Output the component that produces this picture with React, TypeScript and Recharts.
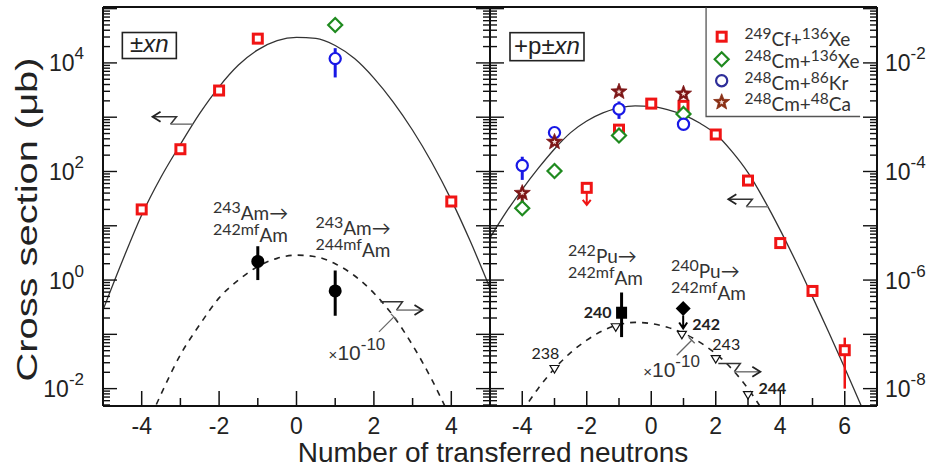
import React from 'react';
import { ComposedChart, Line, Scatter, XAxis, YAxis, ErrorBar, ReferenceDot } from 'recharts';

// ================= Left panel (±xn), cross section in μb =================
const leftCfX = [-4, -3, -2, -1, 4];
const leftCfY = [20, 257, 3100, 28000, 28];
const leftCmXeX = [1];
const leftCmXeY = [50000];
const leftCmKrX = [1];
const leftCmKrY = [12000];
const leftCmKrLo = [5400];
const leftCmKrHi = [18700];
const leftAmX = [-1, 1];
const leftAmY = [2.2, 0.63];
const leftAmLo = [1.0, 0.22];
const leftAmHi = [4.2, 1.5];
const leftFitX = [-5, -4.5, -4, -3.5, -3, -2.5, -2, -1.5, -1, -0.5, 0, 0.5, 1, 1.5, 2, 2.5, 3, 3.5, 4, 4.5, 5];
const leftFitY = [0.28, 2.24, 15.8, 79, 316, 1175, 3630, 9120, 17400, 25700, 29500, 28200, 20900, 12000, 5250, 1900, 575, 145, 30, 5.0, 0.71];
const leftFitAmX = [-3.75, -3.5, -3, -2.5, -2, -1.5, -1, -0.5, 0, 0.5, 1, 1.5, 2, 2.5, 3, 3.5, 3.9];
const leftFitAmY = [0.0032, 0.0079, 0.042, 0.151, 0.47, 1.0, 1.78, 2.51, 2.88, 2.69, 2.0, 1.2, 0.575, 0.219, 0.063, 0.0145, 0.0038];

// ================= Right panel (+p±xn), right-axis units =================
const rightCfX = [-1, 0, 1, 2, 3, 4, 5, 6];
const rightCfY = [5.9e-4, 1.78e-3, 1.62e-3, 4.8e-4, 6.8e-5, 4.8e-6, 6.3e-7, 5.1e-8];
const rightCfLo = [5.9e-4, 1.78e-3, 1.62e-3, 4.8e-4, 6.8e-5, 4.8e-6, 6.3e-7, 1.0e-8];
const rightCfHi = [5.9e-4, 1.78e-3, 1.62e-3, 4.8e-4, 6.8e-5, 4.8e-6, 6.3e-7, 8.7e-8];
const rightCfLimitX = [-2];
const rightCfLimitY = [5.0e-5];
const rightCmXeX = [-4, -3, -1, 1];
const rightCmXeY = [2.1e-5, 1.02e-4, 4.6e-4, 1.15e-3];
const rightCmKrX = [-4, -3, -1, 1];
const rightCmKrY = [1.29e-4, 5.2e-4, 1.41e-3, 7.4e-4];
const rightCmKrLo = [7.0e-5, 4.0e-4, 9.3e-4, 6.6e-4];
const rightCmKrHi = [1.87e-4, 6.6e-4, 1.95e-3, 8.3e-4];
const rightCmCaX = [-4, -3, -1, 1];
const rightCmCaY = [4.0e-5, 3.5e-4, 2.95e-3, 2.7e-3];
const rightCmCaLo = [2.5e-5, 3.5e-4, 2.95e-3, 2.7e-3];
const rightCmCaHi = [5.2e-5, 3.5e-4, 2.95e-3, 2.7e-3];
const rightPuSqX = [-0.92];
const rightPuSqY = [2.5e-7];
const rightPuSqLo = [8.9e-8];
const rightPuSqHi = [5.9e-7];
const rightPuDiaX = [0.99];
const rightPuDiaY = [3.0e-7];
const rightTriX = [-3, -1.1, 0.95, 2, 3];
const rightTriY = [2.3e-8, 1.35e-7, 9.8e-8, 3.5e-8, 7.6e-9];
const rightFitX = [-5, -4.5, -4, -3.5, -3, -2.5, -2, -1.5, -1, -0.5, 0, 0.5, 1, 1.5, 2, 2.5, 3, 3.5, 4, 4.5, 5, 5.5, 6, 6.5, 7];
const rightFitY = [6.0e-6, 1.78e-5, 4.7e-5, 1.15e-4, 2.6e-4, 5.2e-4, 8.5e-4, 1.2e-3, 1.48e-3, 1.62e-3, 1.58e-3, 1.38e-3, 1.10e-3, 7.8e-4, 4.9e-4, 2.34e-4, 9.5e-5, 3.0e-5, 8.3e-6, 2.1e-6, 4.9e-7, 1.1e-7, 2.4e-8, 5.0e-9, 1.0e-9];
const rightFitPuX = [-4, -3.5, -3, -2.5, -2, -1.5, -1, -0.5, 0, 0.5, 1, 1.5, 2, 2.5, 3, 3.5];
const rightFitPuY = [3.8e-9, 1.02e-8, 2.34e-8, 4.6e-8, 7.8e-8, 1.17e-7, 1.51e-7, 1.66e-7, 1.58e-7, 1.35e-7, 1.05e-7, 7.2e-8, 4.4e-8, 2.3e-8, 1.0e-8, 3.6e-9];

// ================= Axis ticks =================
const leftXTicks = [-5, -4, -3, -2, -1, 0, 1, 2, 3, 4, 5];
const rightXTicks = [-5, -4, -3, -2, -1, 0, 1, 2, 3, 4, 5, 6, 7];
const leftDecades = [-3, -2, -1, 0, 1, 2, 3, 4, 5];
const rightDecades = [-9, -8, -7, -6, -5, -4, -3, -2, -1];
const minorMultipliers = [1, 2, 3, 4, 5, 6, 7, 8, 9];
const leftYDomain = [Math.pow(10, -2.32), Math.pow(10, 5.03)];
const rightYDomain = [Math.pow(10, -8.32), Math.pow(10, -0.97)];

const legendLabels = [
  ['249', 'Cf+', '136', 'Xe'],
  ['248', 'Cm+', '136', 'Xe'],
  ['248', 'Cm+', '86', 'Kr'],
  ['248', 'Cm+', '48', 'Ca'],
];

// ================= tables built from arrays =================
const pts = (xs: number[], ys: number[]) => xs.map((x, i) => ({ x, y: ys[i] }));
const errPts = (xs: number[], ys: number[], lo: number[], hi: number[]) =>
  xs.map((x, i) => ({ x, y: ys[i], err: [ys[i] - lo[i], hi[i] - ys[i]] }));
const logTicks = (decs: number[], dom: number[]) =>
  decs.flatMap((e) => minorMultipliers.map((m) => m * Math.pow(10, e))).filter((v) => v >= dom[0] && v <= dom[1]);

const leftYTicks = logTicks(leftDecades, leftYDomain);
const rightYTicks = logTicks(rightDecades, rightYDomain);

// ================= styling helpers =================
const FONT_AXIS = '"Liberation Sans", Arial, sans-serif';
const FONT_NOTE = 'Lato, "Open Sans", sans-serif';
const AX = { stroke: '#111', strokeWidth: 2 };
const RED = '#f01414';
const GREEN = '#1f8a1f';
const BLUE = '#1818e6';
const STAR = '#7d1616';

type Part = { t: string; sup?: boolean };
const Rich = ({ x, y, parts, size, supSize, rise, anchor = 'start', family = FONT_NOTE, weight = 'normal', fill = '#333' }: any) => {
  let cur = 0;
  return (
    <text x={x} y={y} textAnchor={anchor} fontFamily={family} fontWeight={weight} fill={fill} fontSize={size}>
      {parts.map((p: Part, i: number) => {
        const target = p.sup ? -rise : 0;
        const dy = target - cur;
        cur = target;
        return (
          <tspan key={i} dy={dy} fontSize={p.sup ? supSize : size}>
            {p.t}
          </tspan>
        );
      })}
    </text>
  );
};

const starPath = (cx: number, cy: number, R: number, r: number) => {
  let d = '';
  for (let i = 0; i < 10; i++) {
    const a = -Math.PI / 2 + (i * Math.PI) / 5;
    const rad = i % 2 ? r : R;
    d += (i ? 'L' : 'M') + (cx + rad * Math.cos(a)).toFixed(2) + ' ' + (cy + rad * Math.sin(a)).toFixed(2);
  }
  return d + 'Z';
};

const squareShape = (color: string) => (p: any) => (
  <rect x={p.cx - 4.5} y={p.cy - 4.5} width={9} height={9} fill="#fff" stroke={color} strokeWidth={3} />
);
const diamondShape = (color: string) => (p: any) => (
  <path d={`M${p.cx} ${p.cy - 7}L${p.cx + 7} ${p.cy}L${p.cx} ${p.cy + 7}L${p.cx - 7} ${p.cy}Z`} fill="#fff" stroke={color} strokeWidth={2.2} />
);
const circleShape = (color: string) => (p: any) => <circle cx={p.cx} cy={p.cy} r={5.6} fill="#fff" stroke={color} strokeWidth={2.2} />;
const starShape = (color: string) => (p: any) => (
  <g>
    <path d={starPath(p.cx, p.cy, 8.5, 3.6)} fill={color} stroke={color} strokeWidth={0.8} />
    <path d={starPath(p.cx, p.cy, 2.8, 1.2)} fill="#f3dcd6" />
  </g>
);
const blackDot = (p: any) => <circle cx={p.cx} cy={p.cy} r={6.5} fill="#000" />;
const blackSquare = (p: any) => <rect x={p.cx - 5.5} y={p.cy - 6} width={11} height={12} fill="#000" />;
const blackDiamondLimit = (p: any) => (
  <g>
    <path d={`M${p.cx} ${p.cy - 7.5}L${p.cx + 7.5} ${p.cy}L${p.cx} ${p.cy + 7.5}L${p.cx - 7.5} ${p.cy}Z`} fill="#000" />
    <path d={`M${p.cx} ${p.cy + 7}L${p.cx} ${p.cy + 20}M${p.cx - 4} ${p.cy + 14}L${p.cx} ${p.cy + 20}L${p.cx + 4} ${p.cy + 14}`} fill="none" stroke="#000" strokeWidth={2} />
  </g>
);
const redSquareLimit = (p: any) => (
  <g>
    <path d={`M${p.cx} ${p.cy + 5}L${p.cx} ${p.cy + 17}M${p.cx - 4} ${p.cy + 12}L${p.cx} ${p.cy + 17}L${p.cx + 4} ${p.cy + 12}`} fill="none" stroke={RED} strokeWidth={2} />
    <rect x={p.cx - 4.5} y={p.cy - 4.5} width={9} height={9} fill="#fff" stroke={RED} strokeWidth={3} />
  </g>
);
const triShape = (p: any) => (
  <path d={`M${p.cx - 4.5} ${p.cy - 3.5}L${p.cx + 4.5} ${p.cy - 3.5}L${p.cx} ${p.cy + 4}Z`} fill="#fff" stroke="#111" strokeWidth={1.2} />
);
const noShape = () => <g />;

// ================= ticks =================
const makeXTick = (side: 'b' | 't', edges: number[]) => (props: any) => {
  const { x, y, payload } = props;
  const v = payload.value;
  if (edges.includes(v)) return <g />;
  const major = v % 2 === 0;
  const len = major ? 15 : 8;
  const dir = side === 'b' ? -1 : 1;
  return (
    <g>
      <line x1={x} x2={x} y1={y} y2={y + dir * len} stroke="#111" strokeWidth={1.5} />
      {side === 'b' && major && (
        <text x={x} y={y + 27.5} textAnchor="middle" fontFamily={FONT_AXIS} fontSize={23} fill="#222">
          {String(v)}
        </text>
      )}
    </g>
  );
};

const makeYTick = (side: 'l' | 'r', showLabels: boolean) => (props: any) => {
  const { x, y, payload } = props;
  const v = payload.value;
  const lg = Math.log10(v);
  const e = Math.round(lg);
  const major = Math.abs(lg - e) < 1e-6;
  const len = major ? 14 : 7;
  const dir = side === 'l' ? 1 : -1;
  return (
    <g>
      <line x1={x} x2={x + dir * len} y1={y} y2={y} stroke="#111" strokeWidth={1.4} />
      {showLabels && major && e % 2 === 0 && (
        <text x={side === 'l' ? x - 19 : x + 8} y={y + 8.5} textAnchor={side === 'l' ? 'end' : 'start'} fontFamily={FONT_AXIS} fontSize={23} fill="#222">
          10
          <tspan dy={-12} fontSize={17}>
            {String(e)}
          </tspan>
        </text>
      )}
    </g>
  );
};

// ================= annotations =================
const note = (render: (cx: number, cy: number) => React.ReactElement) => (p: any) => render(p.cx, p.cy);

const zigLeft = (cx: number, cy: number) => (
  <g fill="none">
    <path d={`M${cx} ${cy}L${cx + 24} ${cy}L${cx + 18} ${cy + 7.5}`} stroke="#333" strokeWidth={1.5} />
    <path d={`M${cx + 18} ${cy + 7.5}L${cx + 40} ${cy + 7.5}`} stroke="#777" strokeWidth={1.5} />
    <path d={`M${cx + 8} ${cy - 5}L${cx} ${cy}L${cx + 8} ${cy + 5}`} stroke="#222" strokeWidth={1.8} />
  </g>
);
const zigRight = (cx: number, cy: number) => (
  <g fill="none">
    <path d={`M${cx} ${cy}L${cx + 22} ${cy}L${cx + 16} ${cy + 8.3}`} stroke="#333" strokeWidth={1.5} />
    <path d={`M${cx + 16} ${cy + 8.3}L${cx + 42} ${cy + 8.3}`} stroke="#777" strokeWidth={1.5} />
    <path d={`M${cx + 34} ${cy + 3.3}L${cx + 42} ${cy + 8.3}L${cx + 34} ${cy + 13.3}`} stroke="#222" strokeWidth={1.8} />
  </g>
);
const pointer = (cx: number, cy: number) => (
  <g fill="none" stroke="#666" strokeWidth={1.3}>
    <path d={`M${cx} ${cy}L${cx + 15} ${cy - 15}`} />
    <path d={`M${cx + 12} ${cy - 18}L${cx + 18} ${cy - 12}`} />
  </g>
);
const times = (cx: number, cy: number) => (
  <text x={cx} y={cy} fontFamily={FONT_AXIS} fontSize={21} fill="#333">
    <tspan fontSize={15}>×</tspan>
    <tspan>10</tspan>
    <tspan dy={-10} fontSize={17}>
      -10
    </tspan>
  </text>
);
const reaction = (a: string, el: string, b: string) => (cx: number, cy: number) => (
  <g>
    <Rich x={cx} y={cy} parts={[{ t: a, sup: true }, { t: el + '→' }]} size={19} supSize={16} rise={7} />
    <Rich x={cx} y={cy + 22} parts={[{ t: b, sup: true }, { t: 'Am' }]} size={19} supSize={16} rise={7} />
  </g>
);
const boxLabel = (w: number, h: number, pre: string) => (cx: number, cy: number) => (
  <g>
    <rect x={cx} y={cy} width={w} height={h} fill="#fff" stroke="#222" strokeWidth={1.6} />
    <text x={cx + w / 2} y={cy + h - 7} textAnchor="middle" fontFamily={FONT_AXIS} fontSize={24} fill="#222">
      {pre}
      <tspan fontStyle="italic">xn</tspan>
    </text>
  </g>
);
const smallNum = (txt: string, bold: boolean, anchor: string) => (cx: number, cy: number) => (
  <text x={cx} y={cy} textAnchor={anchor} fontFamily={FONT_NOTE} fontWeight={bold ? 'bold' : 'normal'} fontSize={16} fill="#222">
    {txt}
  </text>
);
const legendMarks = [squareShape(RED), diamondShape(GREEN), circleShape('#2e2e99'), starShape('#8a3015')];
const legendRowsDy = [17.2, 39.7, 61.2, 82.7];
const legendBox = (cx: number, cy: number) => (
  <g>
    <path d={`M${cx} ${cy - 12}L${cx} ${cy + 97}L${cx + 154} ${cy + 97}`} fill="none" stroke="#555" strokeWidth={1.3} />
    {legendLabels.map((lab, i) => (
      <g key={i}>
        {legendMarks[i]({ cx: cx + 15.6, cy: cy + legendRowsDy[i] })}
        <Rich
          x={cx + 38.5}
          y={cy + legendRowsDy[i] + 9}
          parts={[{ t: lab[0], sup: true }, { t: lab[1] }, { t: lab[2], sup: true }, { t: lab[3] }]}
          size={19}
          supSize={15.5}
          rise={7}
        />
      </g>
    ))}
  </g>
);

const yTitle = () => (
  <text
    transform="translate(37,219.5) rotate(-90)"
    x={0}
    y={0}
    textAnchor="middle"
    fontFamily={FONT_AXIS}
    fontSize={30}
    fill="#222"
    textLength={324}
    lengthAdjust="spacingAndGlyphs"
  >
    Cross section (μb)
  </text>
);
const xTitle = () => (
  <text x={493} y={461.5} textAnchor="middle" fontFamily={FONT_AXIS} fontSize={28} fill="#222">
    Number of transferred neutrons
  </text>
);

const B = { xAxisId: 'b', yAxisId: 'l' } as const;

const LeftPanel = () => (
  <ComposedChart width={500} height={470} margin={{ top: 5, right: 0, bottom: 34, left: 43 }}>
    <XAxis xAxisId="b" dataKey="x" type="number" domain={[-5, 5]} ticks={leftXTicks} interval={0} tickSize={0} tickMargin={0} height={30} allowDataOverflow axisLine={AX} tickLine={false} tick={makeXTick('b', [-5, 5])} />
    <XAxis xAxisId="t" orientation="top" type="number" domain={[-5, 5]} ticks={leftXTicks} interval={0} tickSize={0} tickMargin={0} height={2} allowDataOverflow axisLine={AX} tickLine={false} tick={makeXTick('t', [-5, 5])} />
    <YAxis yAxisId="l" type="number" scale="log" domain={leftYDomain} ticks={leftYTicks} interval={0} tickSize={0} tickMargin={0} width={60} allowDataOverflow axisLine={AX} tickLine={false} tick={makeYTick('l', true)} label={{ content: yTitle } as any} />
    <YAxis yAxisId="r" orientation="right" type="number" scale="log" domain={leftYDomain} ticks={leftYTicks} interval={0} tickSize={0} tickMargin={0} width={10} allowDataOverflow axisLine={AX} tickLine={false} tick={makeYTick('r', false)} />
    <Line {...B} data={pts(leftFitX, leftFitY)} dataKey="y" type="monotone" dot={false} activeDot={false} stroke="#333" strokeWidth={1.3} isAnimationActive={false} />
    <Line {...B} data={pts(leftFitAmX, leftFitAmY)} dataKey="y" type="monotone" dot={false} activeDot={false} stroke="#222" strokeWidth={1.6} strokeDasharray="6 6" isAnimationActive={false} />
    <Scatter {...B} data={errPts(leftCmKrX, leftCmKrY, leftCmKrLo, leftCmKrHi)} dataKey="y" shape={noShape} isAnimationActive={false}>
      <ErrorBar dataKey="err" direction="y" width={0} stroke={BLUE} strokeWidth={3} />
    </Scatter>
    <Scatter {...B} data={errPts(leftAmX, leftAmY, leftAmLo, leftAmHi)} dataKey="y" shape={noShape} isAnimationActive={false}>
      <ErrorBar dataKey="err" direction="y" width={0} stroke="#000" strokeWidth={3} />
    </Scatter>
    <Scatter {...B} data={pts(leftCfX, leftCfY)} dataKey="y" shape={squareShape(RED)} isAnimationActive={false} />
    <Scatter {...B} data={pts(leftCmXeX, leftCmXeY)} dataKey="y" shape={diamondShape(GREEN)} isAnimationActive={false} />
    <Scatter {...B} data={pts(leftCmKrX, leftCmKrY)} dataKey="y" shape={circleShape(BLUE)} isAnimationActive={false} />
    <Scatter {...B} data={pts(leftAmX, leftAmY)} dataKey="y" shape={blackDot} isAnimationActive={false} />
    <ReferenceDot {...B} x={-4.5} y={Math.pow(10, 4.56)} r={0} shape={note(boxLabel(54, 26, '±'))} />
    <ReferenceDot {...B} x={-3.72} y={Math.pow(10, 3.01)} r={0} shape={note(zigLeft)} />
    <ReferenceDot {...B} x={-2.16} y={Math.pow(10, 1.1)} r={0} shape={note(reaction('243', 'Am', '242mf'))} />
    <ReferenceDot {...B} x={0.49} y={Math.pow(10, 0.83)} r={0} shape={note(reaction('243', 'Am', '244mf'))} />
    <ReferenceDot {...B} x={2.17} y={Math.pow(10, -0.4)} r={0} shape={note(zigRight)} />
    <ReferenceDot {...B} x={2.13} y={Math.pow(10, -0.954)} r={0} shape={note(pointer)} />
    <ReferenceDot {...B} x={0.83} y={Math.pow(10, -1.48)} r={0} shape={note(times)} />
  </ComposedChart>
);

const RightPanel = () => (
  <ComposedChart width={945} height={470} margin={{ top: 5, right: 8, bottom: 34, left: 480 }}>
    <XAxis xAxisId="b" dataKey="x" type="number" domain={[-5, 7]} ticks={rightXTicks} interval={0} tickSize={0} tickMargin={0} height={30} allowDataOverflow axisLine={AX} tickLine={false} tick={makeXTick('b', [-5, 7])} label={{ content: xTitle } as any} />
    <XAxis xAxisId="t" orientation="top" type="number" domain={[-5, 7]} ticks={rightXTicks} interval={0} tickSize={0} tickMargin={0} height={2} allowDataOverflow axisLine={AX} tickLine={false} tick={makeXTick('t', [-5, 7])} />
    <YAxis yAxisId="l" type="number" scale="log" domain={rightYDomain} ticks={rightYTicks} interval={0} tickSize={0} tickMargin={0} width={10} allowDataOverflow axisLine={AX} tickLine={false} tick={makeYTick('l', false)} />
    <YAxis yAxisId="r" orientation="right" type="number" scale="log" domain={rightYDomain} ticks={rightYTicks} interval={0} tickSize={0} tickMargin={0} width={60} allowDataOverflow axisLine={AX} tickLine={false} tick={makeYTick('r', true)} />
    <Line {...B} data={pts(rightFitX, rightFitY)} dataKey="y" type="monotone" dot={false} activeDot={false} stroke="#333" strokeWidth={1.3} isAnimationActive={false} />
    <Line {...B} data={pts(rightFitPuX, rightFitPuY)} dataKey="y" type="monotone" dot={false} activeDot={false} stroke="#222" strokeWidth={1.6} strokeDasharray="6 6" isAnimationActive={false} />
    <Scatter {...B} data={pts(rightTriX, rightTriY)} dataKey="y" shape={triShape} isAnimationActive={false} />
    <Scatter {...B} data={errPts(rightCfX, rightCfY, rightCfLo, rightCfHi)} dataKey="y" shape={noShape} isAnimationActive={false}>
      <ErrorBar dataKey="err" direction="y" width={0} stroke={RED} strokeWidth={2.5} />
    </Scatter>
    <Scatter {...B} data={errPts(rightCmKrX, rightCmKrY, rightCmKrLo, rightCmKrHi)} dataKey="y" shape={noShape} isAnimationActive={false}>
      <ErrorBar dataKey="err" direction="y" width={0} stroke={BLUE} strokeWidth={3} />
    </Scatter>
    <Scatter {...B} data={errPts(rightCmCaX, rightCmCaY, rightCmCaLo, rightCmCaHi)} dataKey="y" shape={noShape} isAnimationActive={false}>
      <ErrorBar dataKey="err" direction="y" width={0} stroke={STAR} strokeWidth={3} />
    </Scatter>
    <Scatter {...B} data={errPts(rightPuSqX, rightPuSqY, rightPuSqLo, rightPuSqHi)} dataKey="y" shape={noShape} isAnimationActive={false}>
      <ErrorBar dataKey="err" direction="y" width={0} stroke="#000" strokeWidth={3} />
    </Scatter>
    <Scatter {...B} data={pts(rightCfX, rightCfY)} dataKey="y" shape={squareShape(RED)} isAnimationActive={false} />
    <Scatter {...B} data={pts(rightCfLimitX, rightCfLimitY)} dataKey="y" shape={redSquareLimit} isAnimationActive={false} />
    <Scatter {...B} data={pts(rightCmXeX, rightCmXeY)} dataKey="y" shape={diamondShape(GREEN)} isAnimationActive={false} />
    <Scatter {...B} data={pts(rightCmKrX, rightCmKrY)} dataKey="y" shape={circleShape(BLUE)} isAnimationActive={false} />
    <Scatter {...B} data={pts(rightCmCaX, rightCmCaY)} dataKey="y" shape={starShape(STAR)} isAnimationActive={false} />
    <Scatter {...B} data={pts(rightPuSqX, rightPuSqY)} dataKey="y" shape={blackSquare} isAnimationActive={false} />
    <Scatter {...B} data={pts(rightPuDiaX, rightPuDiaY)} dataKey="y" shape={blackDiamondLimit} isAnimationActive={false} />
    <ReferenceDot {...B} x={-4.38} y={Math.pow(10, -1.443)} r={0} shape={note(boxLabel(74, 28, '+p±'))} />
    <ReferenceDot {...B} x={1.7} y={Math.pow(10, -1.2)} r={0} shape={note(legendBox)} />
    <ReferenceDot {...B} x={2.39} y={Math.pow(10, -4.511)} r={0} shape={note(zigLeft)} />
    <ReferenceDot {...B} x={2.08} y={Math.pow(10, -7.537)} r={0} shape={note(zigRight)} />
    <ReferenceDot {...B} x={0.79} y={Math.pow(10, -7.384)} r={0} shape={note(pointer)} />
    <ReferenceDot {...B} x={-0.25} y={Math.pow(10, -7.784)} r={0} shape={note(times)} />
    <ReferenceDot {...B} x={-2.58} y={Math.pow(10, -5.692)} r={0} shape={note(reaction('242', 'Pu', '242mf'))} />
    <ReferenceDot {...B} x={0.61} y={Math.pow(10, -5.969)} r={0} shape={note(reaction('240', 'Pu', '242mf'))} />
    <ReferenceDot {...B} x={-1.233} y={Math.pow(10, -6.707)} r={0} shape={note(smallNum('240', true, 'end'))} />
    <ReferenceDot {...B} x={1.273} y={Math.pow(10, -6.923)} r={0} shape={note(smallNum('242', true, 'start'))} />
    <ReferenceDot {...B} x={1.894} y={Math.pow(10, -7.292)} r={0} shape={note(smallNum('243', false, 'start'))} />
    <ReferenceDot {...B} x={3.323} y={Math.pow(10, -8.09)} r={0} shape={note(smallNum('244', true, 'start'))} />
    <ReferenceDot {...B} x={-3.717} y={Math.pow(10, -7.445)} r={0} shape={note(smallNum('238', false, 'start'))} />
  </ComposedChart>
);

export default function App() {
  return (
    <div style={{ position: 'absolute', left: 0, top: 0, width: 945, height: 470, background: '#fff' }}>
      <div style={{ position: 'absolute', left: 0, top: 0 }}>
        <LeftPanel />
      </div>
      <div style={{ position: 'absolute', left: 0, top: 0 }}>
        <RightPanel />
      </div>
    </div>
  );
}
